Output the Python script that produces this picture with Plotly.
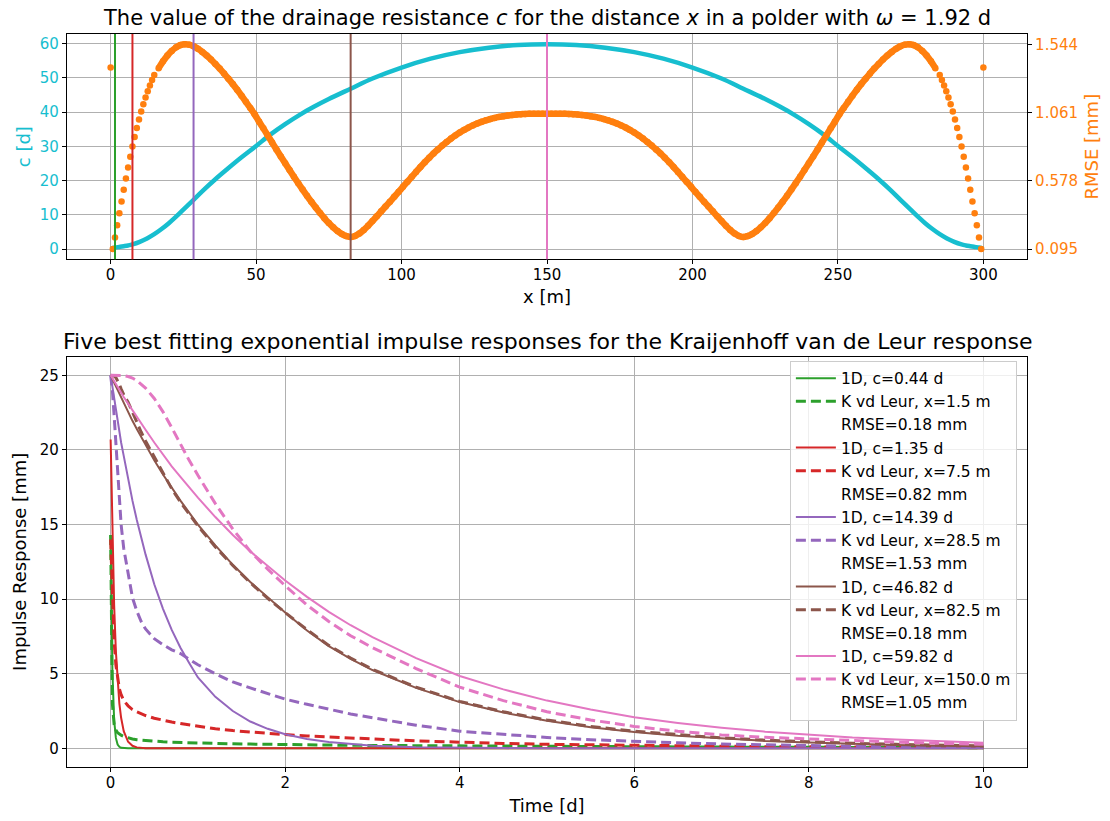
import numpy as np
import plotly.graph_objects as go

# ---------------- data: top panel ----------------
# drainage resistance c [d] along the distance x [m]
c_x = [0, 1.5, 3, 4.5, 6, 7.5, 10, 12.5, 15, 17.5, 20, 22.5, 25, 28.5, 32, 36, 40, 45, 50, 55,
       60, 65, 70, 75, 82.5, 90, 100, 110, 120, 130, 140, 150, 160, 170, 180, 190, 200, 210,
       217.5, 225, 230, 235, 240, 245, 250, 255, 260, 264, 268, 271.5, 275, 277.5, 280, 282.5,
       285, 287.5, 290, 292.5, 294, 295.5, 297, 298.5, 300]
c_val = [0.0, 0.44, 0.62, 0.82, 1.05, 1.35, 2.1, 3.1, 4.35, 5.85, 7.55, 9.45, 11.5, 14.39, 17.3,
         20.4, 23.3, 26.8, 30.1, 33.5, 36.5, 39.2, 41.6, 43.8, 46.82, 49.8, 53.0, 55.6, 57.5,
         58.8, 59.6, 59.82, 59.6, 58.8, 57.5, 55.6, 53.0, 49.8, 46.82, 43.8, 41.6, 39.2, 36.5,
         33.5, 30.1, 26.8, 23.3, 20.4, 17.3, 14.39, 11.5, 9.45, 7.55, 5.85, 4.35, 3.1, 2.1,
         1.35, 1.05, 0.82, 0.62, 0.44, 0.0]

# RMSE [mm] of the best fit at each distance x (sampled every 0.75 m near the ditches, 1.5 m elsewhere)
x_left_edge = np.arange(0, 15.01, 0.75)
x_middle = np.arange(16.5, 283.51, 1.5)
x_right_edge = np.arange(285, 300.01, 0.75)
rmse_left_edge = [1.380, 0.095, 0.177, 0.263, 0.348, 0.432, 0.514, 0.594, 0.672, 0.748, 0.820,
                  0.888, 0.952, 1.012, 1.068, 1.120, 1.168, 1.212, 1.253, 1.291, 1.326]
rmse_middle = [
    1.375, 1.423, 1.464, 1.497, 1.522, 1.538, 1.544, 1.541, 1.530, 1.512,
    1.490, 1.464, 1.436, 1.405, 1.372, 1.337, 1.300, 1.262, 1.222, 1.180,
    1.137, 1.093, 1.048, 0.998, 0.949, 0.899, 0.849, 0.799, 0.750, 0.702,
    0.654, 0.607, 0.561, 0.516, 0.472, 0.430, 0.389, 0.350, 0.313, 0.279,
    0.249, 0.222, 0.201, 0.187, 0.180, 0.188, 0.205, 0.230, 0.260, 0.293,
    0.327, 0.362, 0.396, 0.430, 0.465, 0.500, 0.536, 0.571, 0.606, 0.641,
    0.676, 0.709, 0.741, 0.772, 0.800, 0.827, 0.853, 0.877, 0.899, 0.919,
    0.938, 0.955, 0.970, 0.983, 0.995, 1.006, 1.015, 1.023, 1.030, 1.035,
    1.040, 1.044, 1.047, 1.049, 1.051, 1.052, 1.053, 1.053, 1.053, 1.053,
    1.053, 1.053, 1.053, 1.052, 1.051, 1.049, 1.047, 1.044, 1.040, 1.035,
    1.030, 1.023, 1.015, 1.006, 0.995, 0.983, 0.970, 0.955, 0.938, 0.919,
    0.899, 0.877, 0.853, 0.827, 0.800, 0.772, 0.741, 0.709, 0.676, 0.641,
    0.606, 0.571, 0.536, 0.500, 0.465, 0.430, 0.396, 0.362, 0.327, 0.293,
    0.260, 0.230, 0.205, 0.188, 0.180, 0.187, 0.201, 0.222, 0.249, 0.279,
    0.313, 0.350, 0.389, 0.430, 0.472, 0.516, 0.561, 0.607, 0.654, 0.702,
    0.750, 0.799, 0.849, 0.899, 0.949, 0.998, 1.048, 1.093, 1.137, 1.180,
    1.222, 1.262, 1.300, 1.337, 1.372, 1.405, 1.436, 1.464, 1.490, 1.512,
    1.530, 1.541, 1.544, 1.538, 1.522, 1.497, 1.464, 1.423, 1.375]
rmse_right_edge = [1.326, 1.291, 1.253, 1.212, 1.168, 1.120, 1.068, 1.012, 0.952, 0.888, 0.820,
                   0.748, 0.672, 0.594, 0.514, 0.432, 0.348, 0.263, 0.177, 0.095, 1.380]

rmse_x = np.concatenate([x_left_edge, x_middle, x_right_edge])
rmse_val = rmse_left_edge + rmse_middle + rmse_right_edge

rmse_ticks = [0.095, 0.578, 1.061, 1.544]

# five best fits
x_best = [1.5, 7.5, 28.5, 82.5, 150.0]
c_best = [0.44, 1.35, 14.39, 46.82, 59.82]
rmse_best = [0.18, 0.82, 1.53, 0.18, 1.05]
colors = ["#2ca02c", "#d62728", "#9467bd", "#8c564b", "#e377c2"]

# ---------------- data: bottom panel ----------------
t = [0, 0.02, 0.04, 0.06, 0.08, 0.1, 0.12, 0.15, 0.2, 0.25, 0.3, 0.35, 0.4, 0.5, 0.6, 0.7, 0.8,
     0.9, 1.0, 1.2, 1.4, 1.6, 1.8, 2.0, 2.25, 2.5, 2.75, 3.0, 3.5, 4.0, 4.5, 5.0, 5.5, 6.0, 6.5,
     7.0, 7.5, 8.0, 8.5, 9.0, 9.5, 10.0]

resp_1d = [
    # c = 0.44 d
    [14.3, 5.2, 1.9, 0.7, 0.26, 0.1, 0.035, 0.01, 0.0, 0.0, 0.0, 0.0, 0.0, 0.0, 0.0, 0.0, 0.0,
     0.0, 0.0, 0.0, 0.0, 0.0, 0.0, 0.0, 0.0, 0.0, 0.0, 0.0, 0.0, 0.0, 0.0, 0.0, 0.0, 0.0, 0.0,
     0.0, 0.0, 0.0, 0.0, 0.0, 0.0, 0.0],
    # c = 1.35 d
    [20.7, 14.0, 9.6, 6.5, 4.45, 3.0, 2.05, 1.15, 0.44, 0.17, 0.065, 0.025, 0.01, 0.0, 0.0, 0.0,
     0.0, 0.0, 0.0, 0.0, 0.0, 0.0, 0.0, 0.0, 0.0, 0.0, 0.0, 0.0, 0.0, 0.0, 0.0, 0.0, 0.0, 0.0,
     0.0, 0.0, 0.0, 0.0, 0.0, 0.0, 0.0, 0.0],
    # c = 14.39 d
    [25.0, 24.2, 23.4, 22.7, 22.0, 21.2, 20.5, 19.6, 18.0, 16.6, 15.3, 14.1, 13.0, 11.0, 9.35,
     7.94, 6.74, 5.72, 4.75, 3.45, 2.5, 1.8, 1.31, 0.94, 0.63, 0.42, 0.28, 0.18, 0.08, 0.036,
     0.016, 0.007, 0.003, 0.001, 0.0, 0.0, 0.0, 0.0, 0.0, 0.0, 0.0, 0.0],
    # c = 46.82 d
    [25.0, 24.75, 24.5, 24.25, 24.0, 23.75, 23.5, 23.15, 22.55, 21.95, 21.4, 20.85, 20.3, 19.3,
     18.35, 17.45, 16.6, 15.8, 15.0, 13.6, 12.3, 11.15, 10.1, 9.1, 7.9, 6.85, 6.0, 5.25, 4.05,
     3.1, 2.4, 1.85, 1.42, 1.1, 0.85, 0.66, 0.5, 0.39, 0.3, 0.23, 0.18, 0.14],
    # c = 59.82 d
    [25.0, 24.8, 24.6, 24.4, 24.2, 24.0, 23.8, 23.55, 23.1, 22.65, 22.2, 21.8, 21.35, 20.5,
     19.7, 18.9, 18.2, 17.5, 16.8, 15.5, 14.3, 13.2, 12.2, 11.25, 10.15, 9.15, 8.25, 7.45, 6.05,
     4.85, 3.95, 3.2, 2.6, 2.08, 1.7, 1.38, 1.12, 0.9, 0.73, 0.6, 0.48, 0.38],
]

resp_kvdl = [
    # x = 1.5 m
    [14.3, 3.0, 1.6, 1.22, 1.05, 0.95, 0.88, 0.8, 0.7, 0.63, 0.58, 0.55, 0.52, 0.47, 0.44, 0.41,
     0.39, 0.37, 0.355, 0.33, 0.305, 0.285, 0.265, 0.25, 0.235, 0.22, 0.205, 0.195, 0.175, 0.155,
     0.14, 0.125, 0.115, 0.1, 0.092, 0.083, 0.075, 0.068, 0.062, 0.056, 0.051, 0.046],
    # x = 7.5 m
    [14.0, 10.0, 7.2, 5.6, 4.6, 4.0, 3.6, 3.2, 2.85, 2.6, 2.45, 2.3, 2.2, 2.02, 1.88, 1.76, 1.66,
     1.57, 1.45, 1.31, 1.19, 1.09, 1.0, 0.92, 0.83, 0.75, 0.69, 0.63, 0.5, 0.4, 0.33, 0.27, 0.23,
     0.19, 0.16, 0.135, 0.115, 0.1, 0.085, 0.072, 0.062, 0.053],
    # x = 28.5 m
    [25.0, 24.0, 22.3, 20.3, 18.4, 16.5, 15.0, 13.4, 11.6, 10.1, 9.2, 8.5, 8.0, 7.35, 6.95, 6.6,
     6.35, 6.0, 5.6, 5.0, 4.45, 4.05, 3.65, 3.3, 2.95, 2.6, 2.3, 2.05, 1.55, 1.15, 0.92, 0.73,
     0.58, 0.46, 0.37, 0.29, 0.23, 0.18, 0.14, 0.11, 0.09, 0.07],
    # x = 82.5 m
    [25.0, 25.0, 24.95, 24.85, 24.65, 24.4, 24.1, 23.7, 23.2, 22.5, 21.8, 21.2, 20.6, 19.5, 18.4,
     17.4, 16.5, 15.7, 14.9, 13.5, 12.25, 11.1, 10.05, 9.1, 7.95, 6.9, 6.05, 5.3, 4.1, 3.15,
     2.45, 1.9, 1.47, 1.15, 0.9, 0.7, 0.55, 0.43, 0.34, 0.27, 0.21, 0.16],
    # x = 150.0 m
    [25.0, 25.0, 25.0, 25.0, 25.0, 25.0, 24.99, 24.98, 24.92, 24.82, 24.65, 24.42, 24.15, 23.45,
     22.55, 21.5, 20.35, 19.3, 18.3, 16.4, 14.7, 13.2, 12.0, 10.9, 9.6, 8.5, 7.55, 6.75, 5.35,
     4.1, 3.2, 2.45, 1.9, 1.47, 1.15, 0.9, 0.74, 0.62, 0.52, 0.42, 0.34, 0.27],
]

# ---------------- figure ----------------
FONT = "DejaVu Sans"
CYAN = "#17becf"
ORANGE = "#ff7f0e"
GRID = "#b0b0b0"

fig = go.Figure()

fig.add_trace(go.Scatter(x=c_x, y=c_val, mode="lines", line=dict(color=CYAN, width=4.5, shape="spline"),
                         xaxis="x", yaxis="y", showlegend=False))
# dense part of the RMSE dots: the markers overlap into a continuous band
fig.add_trace(go.Scatter(x=x_middle, y=rmse_middle, mode="lines",
                         line=dict(color=ORANGE, width=6.5, shape="spline"),
                         xaxis="x", yaxis="y3", showlegend=False, hoverinfo="skip"))
fig.add_trace(go.Scatter(x=rmse_x, y=rmse_val, mode="markers",
                         marker=dict(color=ORANGE, size=6.5, line=dict(width=0)),
                         xaxis="x", yaxis="y3", showlegend=False))

for i in range(5):
    fig.add_trace(go.Scatter(x=t, y=resp_1d[i], mode="lines", line=dict(color=colors[i], width=2),
                             name=f"1D, c={c_best[i]:.2f} d", xaxis="x2", yaxis="y2"))
    fig.add_trace(go.Scatter(x=t, y=resp_kvdl[i], mode="lines",
                             line=dict(color=colors[i], width=3, dash="10px,5px"),
                             name=f"K vd Leur, x={x_best[i]:.1f} m", xaxis="x2", yaxis="y2"))
    fig.add_trace(go.Scatter(x=[None], y=[None], mode="lines", line=dict(color="rgba(0,0,0,0)", width=2),
                             name=f"RMSE={rmse_best[i]:.2f} mm", xaxis="x2", yaxis="y2"))

shapes = []
for i in range(5):
    shapes.append(dict(type="line", xref="x", yref="y domain", x0=x_best[i], x1=x_best[i], y0=0, y1=1,
                       line=dict(color=colors[i], width=2), layer="above"))

axis_common = dict(showline=True, mirror=True, linecolor="black", linewidth=1.2, ticks="outside",
                   ticklen=4, tickwidth=1.2, tickcolor="black", showgrid=True, gridcolor=GRID,
                   gridwidth=1, zeroline=False, automargin=False,
                   tickfont=dict(family=FONT, size=15, color="black"))

fig.update_layout(
    width=1110, height=821,
    margin=dict(l=67, r=83, t=34, b=54),
    paper_bgcolor="white", plot_bgcolor="white",
    font=dict(family=FONT, size=15, color="black"),
    shapes=shapes,
    xaxis=dict(axis_common, domain=[0, 1], anchor="y", range=[-15, 315], tickvals=[0, 50, 100, 150, 200, 250, 300],
               ticklabelstandoff=-2,
               title=dict(text="x [m]", font=dict(family=FONT, size=18), standoff=6)),
    yaxis=dict(axis_common, domain=[0.6926, 1], anchor="x", range=[-3.0, 62.8], tickvals=[0, 10, 20, 30, 40, 50, 60],
               tickfont=dict(family=FONT, size=15, color=CYAN),
               title=dict(text="c [d]", font=dict(family=FONT, size=18, color=CYAN), standoff=4)),
    yaxis3=dict(axis_common, overlaying="y", side="right", anchor="x", range=[0.0225, 1.6165],
                tickvals=rmse_ticks, ticktext=[f"{v:.3f}" for v in rmse_ticks], showgrid=False,
                tickfont=dict(family=FONT, size=15, color=ORANGE),
                title=dict(text="RMSE [mm]", font=dict(family=FONT, size=18, color=ORANGE), standoff=8)),
    xaxis2=dict(axis_common, domain=[0, 1], anchor="y2", range=[-0.5, 10.5], tickvals=[0, 2, 4, 6, 8, 10],
                ticklabelstandoff=-2,
                title=dict(text="Time [d]", font=dict(family=FONT, size=18), standoff=8)),
    yaxis2=dict(axis_common, domain=[0, 0.5598], anchor="x2", range=[-1.25, 26.25], tickvals=[0, 5, 10, 15, 20, 25],
                title=dict(text="Impulse Response [mm]", font=dict(family=FONT, size=18), standoff=8)),
    legend=dict(x=0.753, y=0.5545, xanchor="left", yanchor="top", bgcolor="rgba(255,255,255,0.8)",
                bordercolor="#cccccc", borderwidth=1, font=dict(family=FONT, size=15.5),
                traceorder="normal", tracegroupgap=0, itemwidth=40),
    annotations=[
        dict(text="The value of the drainage resistance <i>c</i> for the distance <i>x</i> in a polder with <i>ω</i> = 1.92 d",
             xref="paper", yref="paper", x=0.5, y=1.0, xanchor="center", yanchor="bottom", yshift=2,
             showarrow=False, font=dict(family=FONT, size=21)),
        dict(text="Five best fitting exponential impulse responses for the Kraijenhoff van de Leur response",
             xref="paper", yref="paper", x=0.5, y=0.5598, xanchor="center", yanchor="bottom", yshift=1,
             showarrow=False, font=dict(family=FONT, size=22)),
    ],
)

fig.write_html("out.html")
